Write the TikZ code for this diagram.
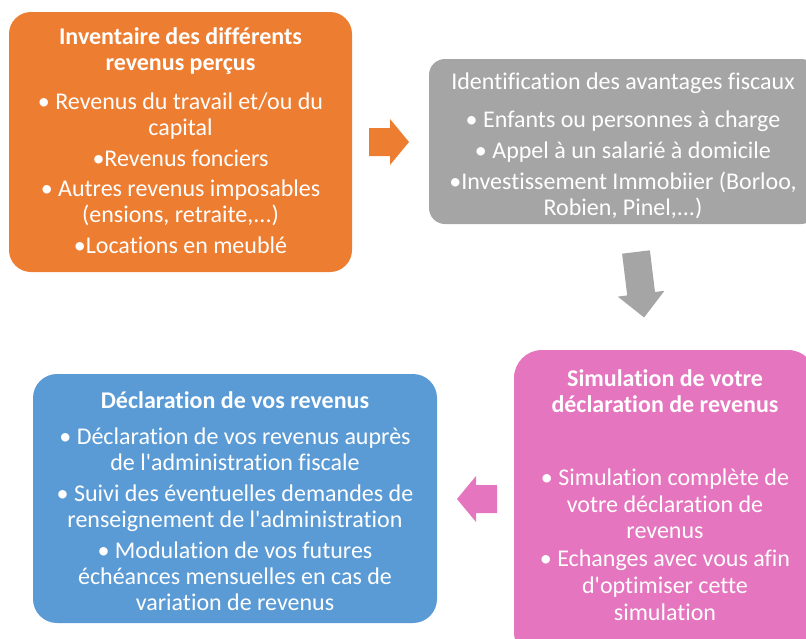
\documentclass[tikz,border=0pt]{standalone}
\usepackage{fontspec}
\setmainfont{Carlito}[Ligatures={TeX,NoCommon}]
\definecolor{orangeC}{HTML}{ED7D31}
\definecolor{grisC}{HTML}{A5A5A5}
\definecolor{roseC}{HTML}{E575BE}
\definecolor{bleuC}{HTML}{5B9BD5}
\newcommand{\hautligne}{\rule{0pt}{19pt}}
\newcommand{\apos}{\textquotesingle}

\begin{document}
\begin{tikzpicture}[x=1pt, y=-1pt,
    etape/.style={rounded corners=#1, inner sep=0pt, outer sep=0pt},
    texte/.style={text=white, align=center, anchor=north, inner sep=0pt,
      font=\fontsize{24}{26}\selectfont},
    titre/.style={texte, font=\fontsize{24}{26}\selectfont\bfseries},
    fleche/.style={fill=#1, draw=none}]
  \clip (0,0) rectangle (806,638);
  % les quatre etapes
  \node[etape=22pt, fill=orangeC, minimum width=343pt, minimum height=260pt] (inventaire) at (180.5,142) {};
  \node[etape=16pt, fill=grisC, minimum width=388pt, minimum height=165pt] (avantages) at (623,141.5) {};
  \node[etape=28pt, fill=roseC, minimum width=302pt, minimum height=310pt] (simulation) at (665,505) {};
  \node[etape=24pt, fill=bleuC, minimum width=404pt, minimum height=249pt] (declaration) at (235,498.5) {};
  % textes
  \node[titre] (inventaire-t) at (180.5,25.6) {\hautligne Inventaire des différents\\revenus perçus};
  \node[texte] (inventaire-l) at (180.5,90.6) {\hautligne • Revenus du travail et/ou du\\capital\\[4.5pt]
    •Revenus fonciers\\[4.5pt]
    • Autres revenus imposables\\(ensions, retraite,...)\\[4.5pt]
    •Locations en meublé};
  \node[texte] (avantages-t) at (623,70.6) {\hautligne Identification des avantages fiscaux};
  \node[texte] (avantages-l) at (623,108.6) {\hautligne • Enfants ou personnes à charge\\[5pt]
    • Appel à un salarié à domicile\\[5pt]
    •Investissement Immobiier (Borloo,\\Robien, Pinel,...)};
  \node[titre] (simulation-t) at (665,367) {\hautligne Simulation de votre\\déclaration de revenus};
  \node[texte, font=\fontsize{24}{26.8}\selectfont] (simulation-l) at (665,466) {\hautligne • Simulation complète de\\votre déclaration de\\revenus\\[1pt]
    • Echanges avec vous afin\\d\apos optimiser cette\\simulation};
  \node[titre] (declaration-t) at (235,389.3) {\hautligne Déclaration de vos revenus};
  \node[texte] (declaration-l) at (235,425.6) {\hautligne • Déclaration de vos revenus auprès\\de l\apos administration fiscale\\[5pt]
    • Suivi des éventuelles demandes de\\renseignement de l\apos administration\\[5pt]
    • Modulation de vos futures\\échéances mensuelles en cas de\\variation de revenus};
  % fleches
  \fill[fleche=orangeC] (369,128) -- (390,128) -- (390,119) -- (409,142) -- (390,165) -- (390,156) -- (369,156) -- cycle;
  \fill[fleche=grisC] (622.1,253.7) -- (649.9,250.3) -- (655.0,292.0) -- (664.4,290.8) -- (644.1,317.5) -- (617.8,296.6) -- (627.2,295.4) -- cycle;
  \fill[fleche=roseC] (497,485) -- (476,485) -- (476,476) -- (457,499) -- (476,522) -- (476,513) -- (497,513) -- cycle;
\end{tikzpicture}
\end{document}
